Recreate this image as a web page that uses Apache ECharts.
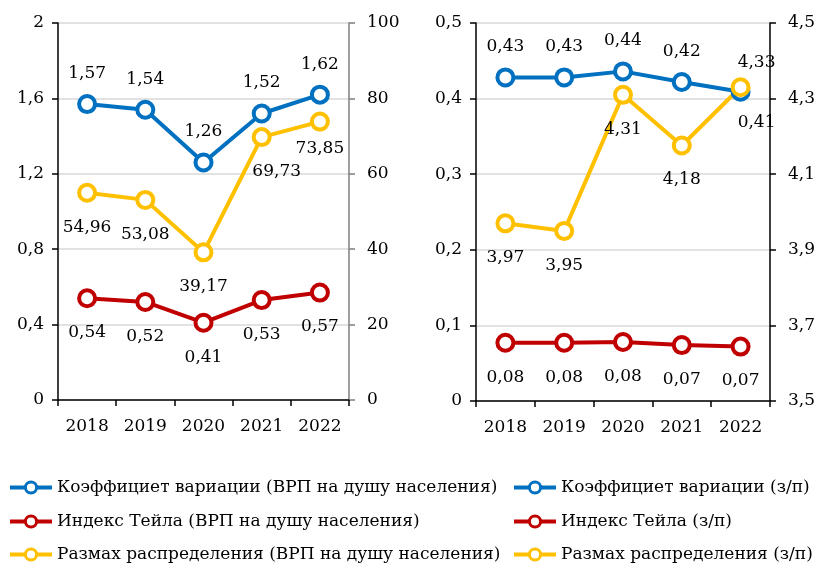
<!DOCTYPE html>
<html>
<head>
<meta charset="utf-8">
<script src="https://cdn.jsdelivr.net/npm/echarts@6/dist/echarts.min.js"></script>
<style>
  html, body { margin: 0; padding: 0; background: #fff; }
  #chart { width: 818px; height: 563px; }
</style>
</head>
<body>
<div id="chart"></div>
<script>
// данные
const years = ['2018', '2019', '2020', '2021', '2022'];
// ВРП на душу населения
const cvGrp = [1.57, 1.54, 1.26, 1.52, 1.62];
const theilGrp = [0.54, 0.52, 0.41, 0.53, 0.57];
const rangeGrp = [54.96, 53.08, 39.17, 69.73, 73.85];
// з/п
const cvWage = [0.428, 0.428, 0.436, 0.422, 0.409];
const theilWage = [0.077, 0.077, 0.078, 0.074, 0.072];
const rangeWage = [3.97, 3.95, 4.31, 4.176, 4.33];

const namesGrp = [
  'Коэффициет вариации (ВРП на душу населения)',
  'Индекс Тейла (ВРП на душу населения)',
  'Размах распределения (ВРП на душу населения)'
];
const namesWage = [
  'Коэффициет вариации (з/п)',
  'Индекс Тейла (з/п)',
  'Размах распределения (з/п)'
];

const BLUE = '#0070C0', RED = '#C00000', YELLOW = '#FFC000';
const FONT = 'DejaVu Serif';
const FS = 17;

const comma1 = v => String(+v.toFixed(1)).replace('.', ',');
const comma2 = v => v.toFixed(2).replace('.', ',');

// подписи точек: позиция / смещение
function points(arr, pos, extra) {
  return arr.map((v, i) => {
    const p = Array.isArray(pos) ? pos[i] : pos;
    const lab = { position: p, distance: p === 'top' ? 12 : 16 };
    if (extra && extra[i]) Object.assign(lab, extra[i]);
    return { value: v, label: lab };
  });
}

function line(name, color, xi, yi, data) {
  return {
    name: name,
    type: 'line',
    xAxisIndex: xi,
    yAxisIndex: yi,
    data: data,
    symbol: 'circle',
    symbolSize: 16,
    lineStyle: { color: color, width: 4 },
    itemStyle: { color: '#fff', borderColor: color, borderWidth: 4 },
    label: {
      show: true,
      color: '#000',
      fontFamily: FONT,
      fontSize: FS,
      formatter: p => comma2(p.value)
    },
    emphasis: { disabled: true },
    z: 3
  };
}

function xAx(gi) {
  return {
    type: 'category',
    gridIndex: gi,
    data: years,
    boundaryGap: true,
    axisLine: { lineStyle: { color: '#000', width: 1.5 } },
    axisTick: { show: true, length: 6, lineStyle: { color: '#000', width: 1.5 } },
    axisLabel: { color: '#000', fontFamily: FONT, fontSize: FS, margin: 18 }
  };
}

function yAx(gi, pos, min, max, step, lineColor, split) {
  return {
    type: 'value',
    gridIndex: gi,
    position: pos,
    min: min,
    max: max,
    interval: step,
    axisLine: { show: true, lineStyle: { color: lineColor, width: 1.5 } },
    axisTick: { show: true, length: 6, lineStyle: { color: lineColor, width: 1.5 } },
    splitLine: { show: split, lineStyle: { color: '#d9d9d9', width: 1.5 } },
    axisLabel: {
      color: '#000', fontFamily: FONT, fontSize: FS,
      margin: pos === 'left' ? 14 : 18,
      formatter: comma1
    }
  };
}

// одна строка легенды = один элемент
const rowY = [486, 520, 553];
function legendItem(left, name, row) {
  return {
    left: left,
    top: rowY[row] - 7,
    padding: 0,
    data: [name],
    itemWidth: 42,
    itemHeight: 14,
    lineStyle: { width: 4 },
    itemStyle: { borderWidth: 3 },
    textStyle: { color: '#000', fontFamily: FONT, fontSize: FS, lineHeight: 14 },
    selectedMode: false
  };
}

const chart = echarts.init(document.getElementById('chart'), null, { renderer: 'canvas' });

chart.setOption({
  animation: false,
  backgroundColor: '#fff',
  grid: [
    { left: 58, top: 23, width: 291, height: 377 },
    { left: 476, top: 23, width: 294, height: 378 }
  ],
  xAxis: [xAx(0), xAx(1)],
  yAxis: [
    yAx(0, 'left', 0, 2, 0.4, '#000', true),
    yAx(0, 'right', 0, 100, 20, '#7f7f7f', false),
    yAx(1, 'left', 0, 0.5, 0.1, '#000', true),
    yAx(1, 'right', 3.5, 4.5, 0.2, '#000', false)
  ],
  legend: namesGrp.map((n, i) => legendItem(8, n, i))
    .concat(namesWage.map((n, i) => legendItem(512, n, i))),
  series: [
    line(namesGrp[0], BLUE, 0, 0, points(cvGrp, 'top')),
    line(namesGrp[1], RED, 0, 0, points(theilGrp, 'bottom')),
    line(namesGrp[2], YELLOW, 0, 1, points(rangeGrp, 'bottom',
      [null, null, null, { offset: [15, 0] }, { distance: 8 }])),
    line(namesWage[0], BLUE, 1, 2, points(cvWage, ['top', 'top', 'top', 'top', 'bottom'],
      [null, null, null, null, { offset: [16, 0], distance: 12 }])),
    line(namesWage[1], RED, 1, 2, points(theilWage, 'bottom')),
    line(namesWage[2], YELLOW, 1, 3, points(rangeWage, ['bottom', 'bottom', 'bottom', 'bottom', 'top'],
      [null, null, null, null, { offset: [16, 0], distance: 6 }]))
  ]
});
</script>
</body>
</html>
